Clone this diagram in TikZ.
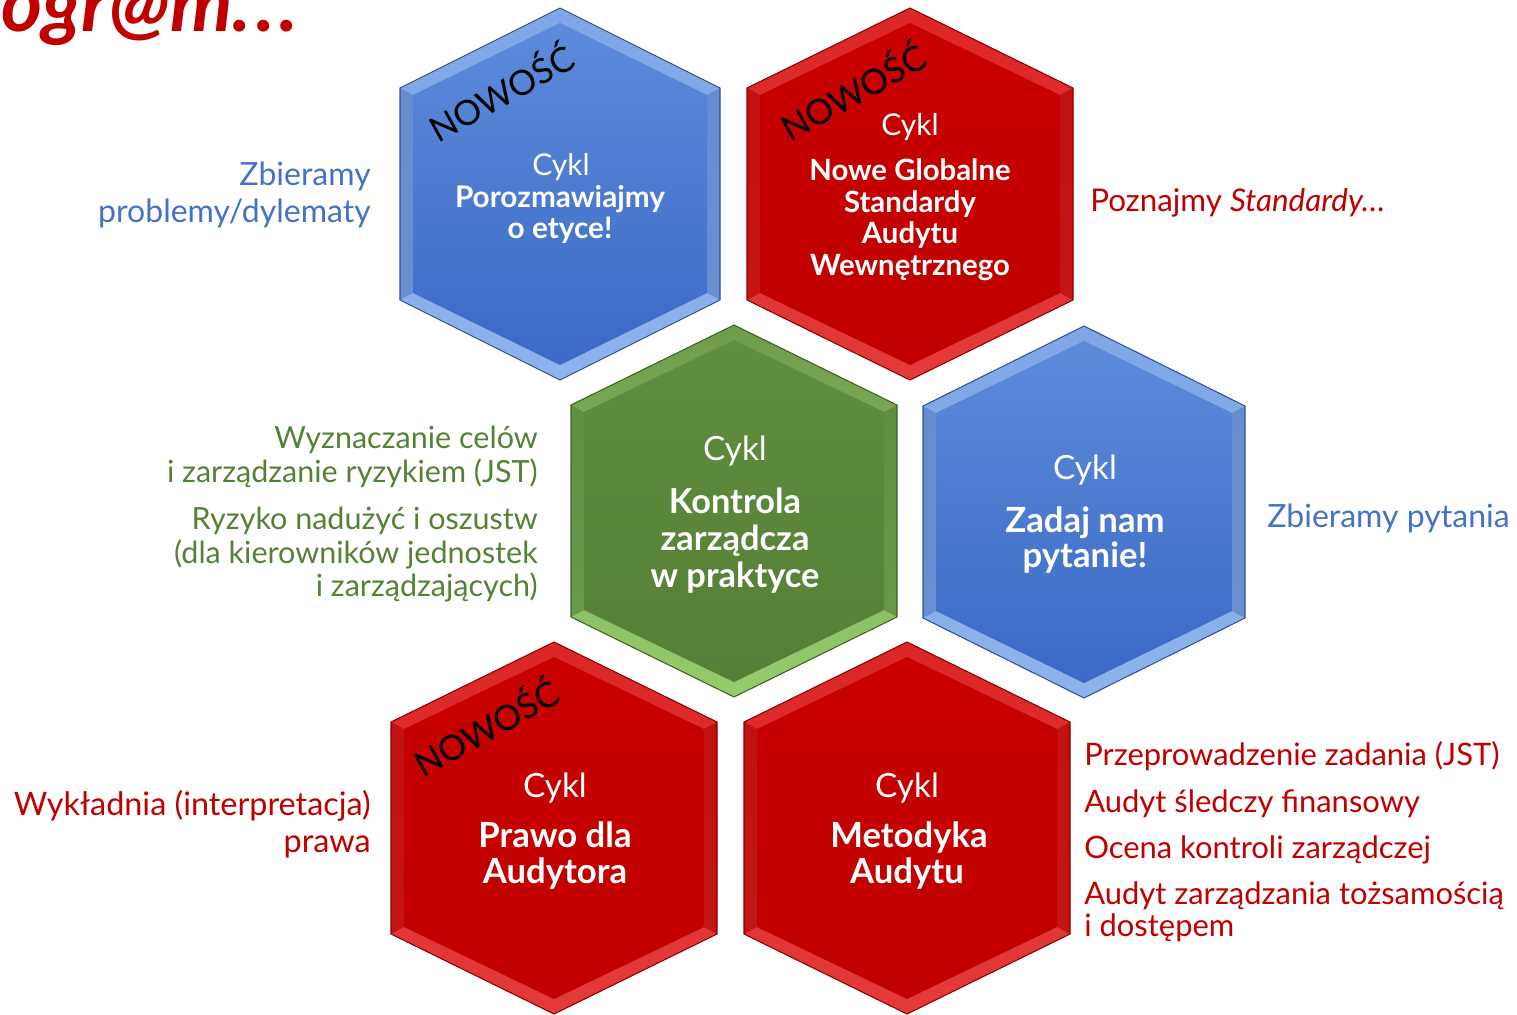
\documentclass[tikz,border=0pt]{standalone}
\usepackage{fontspec}
\setmainfont{Lato}
\definecolor{bluetop}{HTML}{5D8BDA}
\definecolor{bluebot}{HTML}{3A6AC6}
\definecolor{bluebevt}{HTML}{7FA6E6}
\definecolor{bluebevb}{HTML}{8DB3EC}
\definecolor{bluebrd}{HTML}{2E5596}
\definecolor{redtop}{HTML}{C80000}
\definecolor{redbot}{HTML}{C00000}
\definecolor{redbevt}{HTML}{DC2626}
\definecolor{redbevb}{HTML}{E43A3A}
\definecolor{redbrd}{HTML}{8A0000}
\definecolor{grntop}{HTML}{5F8F3F}
\definecolor{grnbot}{HTML}{557F36}
\definecolor{grnbevt}{HTML}{6F9C4B}
\definecolor{grnbevb}{HTML}{96CB6C}
\definecolor{grnbrd}{HTML}{3B6324}
\definecolor{txtblue}{HTML}{4472C4}
\definecolor{txtgreen}{HTML}{548235}
\definecolor{txtred}{HTML}{C00000}
\newcommand\fsz[1]{\fontsize{#1}{#1}\selectfont}
% #1 cx, #2 cy, #3 half width, #4 colour prefix
\newcommand\hexagon[4]{%
  \shade[top color=#4bevt, bottom color=#4bevb] (#1,#2-186) -- (#1+#3,#2-106) -- (#1+#3,#2+106) -- (#1,#2+186) -- (#1-#3,#2+106) -- (#1-#3,#2-106) -- cycle;
  \shade[top color=#4top, bottom color=#4bot] (#1,#2-171) -- (#1+#3-13,#2-99) -- (#1+#3-13,#2+99) -- (#1,#2+171) -- (#1-#3+13,#2+99) -- (#1-#3+13,#2-99) -- cycle;
  \fill[#4top!88!black, opacity=0.6] (#1-#3,#2-106) -- (#1-#3+13,#2-99) -- (#1-#3+13,#2+99) -- (#1-#3,#2+106) -- cycle;
  \fill[#4top!88!black, opacity=0.6] (#1+#3,#2-106) -- (#1+#3-13,#2-99) -- (#1+#3-13,#2+99) -- (#1+#3,#2+106) -- cycle;
  \draw[#4brd, line width=0.8pt] (#1,#2-186) -- (#1+#3,#2-106) -- (#1+#3,#2+106) -- (#1,#2+186) -- (#1-#3,#2+106) -- (#1-#3,#2-106) -- cycle;
}
\tikzset{
  ln/.style={inner sep=0pt, anchor=base, text=white},
  lnw/.style={inner sep=0pt, anchor=base east},
  lne/.style={inner sep=0pt, anchor=base west},
  nowosc/.style={inner sep=0pt, text=black, rotate=29, font=\fsz{26}},
}
\begin{document}
\begin{tikzpicture}[x=0.75pt,y=-0.75pt]
\useasboundingbox (0,0) rectangle (1517,1014);
\clip (0,0) rectangle (1517,1014);

% title
\node[inner sep=0pt, anchor=base west, text=txtred, font=\fsz{59}\bfseries\itshape] (title) at (1,31) {ogr@m.\kern0.06em.\kern0.06em.};

% hexagons
\hexagon{560}{194}{160}{blue}
\hexagon{910}{194}{163}{red}
\hexagon{734}{511}{163}{grn}
\hexagon{1084}{512}{161}{blue}
\hexagon{554}{828}{163}{red}
\hexagon{907}{828}{163}{red}

% hex 1
\node[nowosc] (n1) at (500,91) {NOWOŚĆ};
\node[ln, font=\fsz{22.5}] (h1a) at (561,175) {Cykl};
\node[ln, font=\fsz{22.3}\bfseries] (h1b) at (560,207) {Porozmawiajmy};
\node[ln, font=\fsz{22.3}\bfseries] (h1c) at (560,238) {o etyce!};

% hex 2
\node[nowosc] (n2) at (852,90) {NOWOŚĆ};
\node[ln, font=\fsz{22.5}] (h2a) at (910,135) {Cykl};
\node[ln, font=\fsz{22}\bfseries] (h2b) at (910,180) {Nowe Globalne};
\node[ln, font=\fsz{22}\bfseries] (h2c) at (910,212) {Standardy};
\node[ln, font=\fsz{22}\bfseries] (h2d) at (910,243) {Audytu};
\node[ln, font=\fsz{22}\bfseries] (h2e) at (910,275) {Wewnętrznego};

% hex 3
\node[ln, font=\fsz{25}] (h3a) at (735,460) {Cykl};
\node[ln, font=\fsz{25.8}\bfseries] (h3b) at (735,513) {Kontrola};
\node[ln, font=\fsz{25.8}\bfseries] (h3c) at (735,550) {zarządcza};
\node[ln, font=\fsz{25.8}\bfseries] (h3d) at (735,587) {w praktyce};

% hex 4
\node[ln, font=\fsz{25}] (h4a) at (1085,479) {Cykl};
\node[ln, font=\fsz{26}\bfseries] (h4b) at (1085,532) {Zadaj nam};
\node[ln, font=\fsz{26}\bfseries] (h4c) at (1085,567) {pytanie!};

% hex 5
\node[nowosc] (n5) at (485,726) {NOWOŚĆ};
\node[ln, font=\fsz{25}] (h5a) at (555,797) {Cykl};
\node[ln, font=\fsz{26}\bfseries] (h5b) at (555,847) {Prawo dla};
\node[ln, font=\fsz{26}\bfseries] (h5c) at (555,883) {Audytora};

% hex 6
\node[ln, font=\fsz{25}] (h6a) at (907,797) {Cykl};
\node[ln, font=\fsz{26}\bfseries] (h6b) at (909,847) {Metodyka};
\node[ln, font=\fsz{26}\bfseries] (h6c) at (907,883) {Audytu};

% side texts
\node[lnw, text=txtblue, font=\fsz{24}] (s1a) at (371,185) {Zbieramy};
\node[lnw, text=txtblue, font=\fsz{24}] (s1b) at (371,222) {problemy/dylematy};

\node[lne, text=txtred, font=\fsz{23.5}] (s2) at (1090,211) {Poznajmy \textit{Standardy…}};

\node[lnw, text=txtgreen, font=\fsz{22.9}] (s3a) at (538,448) {Wyznaczanie celów};
\node[lnw, text=txtgreen, font=\fsz{22.9}] (s3b) at (538,482) {i zarządzanie ryzykiem (JST)};
\node[lnw, text=txtgreen, font=\fsz{22.9}] (s3c) at (538,529) {Ryzyko nadużyć i oszustw};
\node[lnw, text=txtgreen, font=\fsz{22.9}] (s3d) at (538,563) {(dla kierowników jednostek};
\node[lnw, text=txtgreen, font=\fsz{22.9}] (s3e) at (538,596) {i zarządzających)};

\node[lne, text=txtblue, font=\fsz{24}] (s4) at (1267,527) {Zbieramy pytania};

\node[lnw, text=txtred, font=\fsz{24.3}] (s5a) at (371,815) {Wykładnia (interpretacja)};
\node[lnw, text=txtred, font=\fsz{24.3}] (s5b) at (371,852) {prawa};

\node[lne, text=txtred, font=\fsz{23.2}] (s6a) at (1084,765) {Przeprowadzenie zadania (JST)};
\node[lne, text=txtred, font=\fsz{23.2}] (s6b) at (1084,812) {Audyt śledczy finansowy};
\node[lne, text=txtred, font=\fsz{23.2}] (s6c) at (1084,858) {Ocena kontroli zarządczej};
\node[lne, text=txtred, font=\fsz{23.2}] (s6d) at (1084,904) {Audyt zarządzania tożsamością};
\node[lne, text=txtred, font=\fsz{23.2}] (s6e) at (1084,936) {i dostępem};
\end{tikzpicture}
\end{document}
